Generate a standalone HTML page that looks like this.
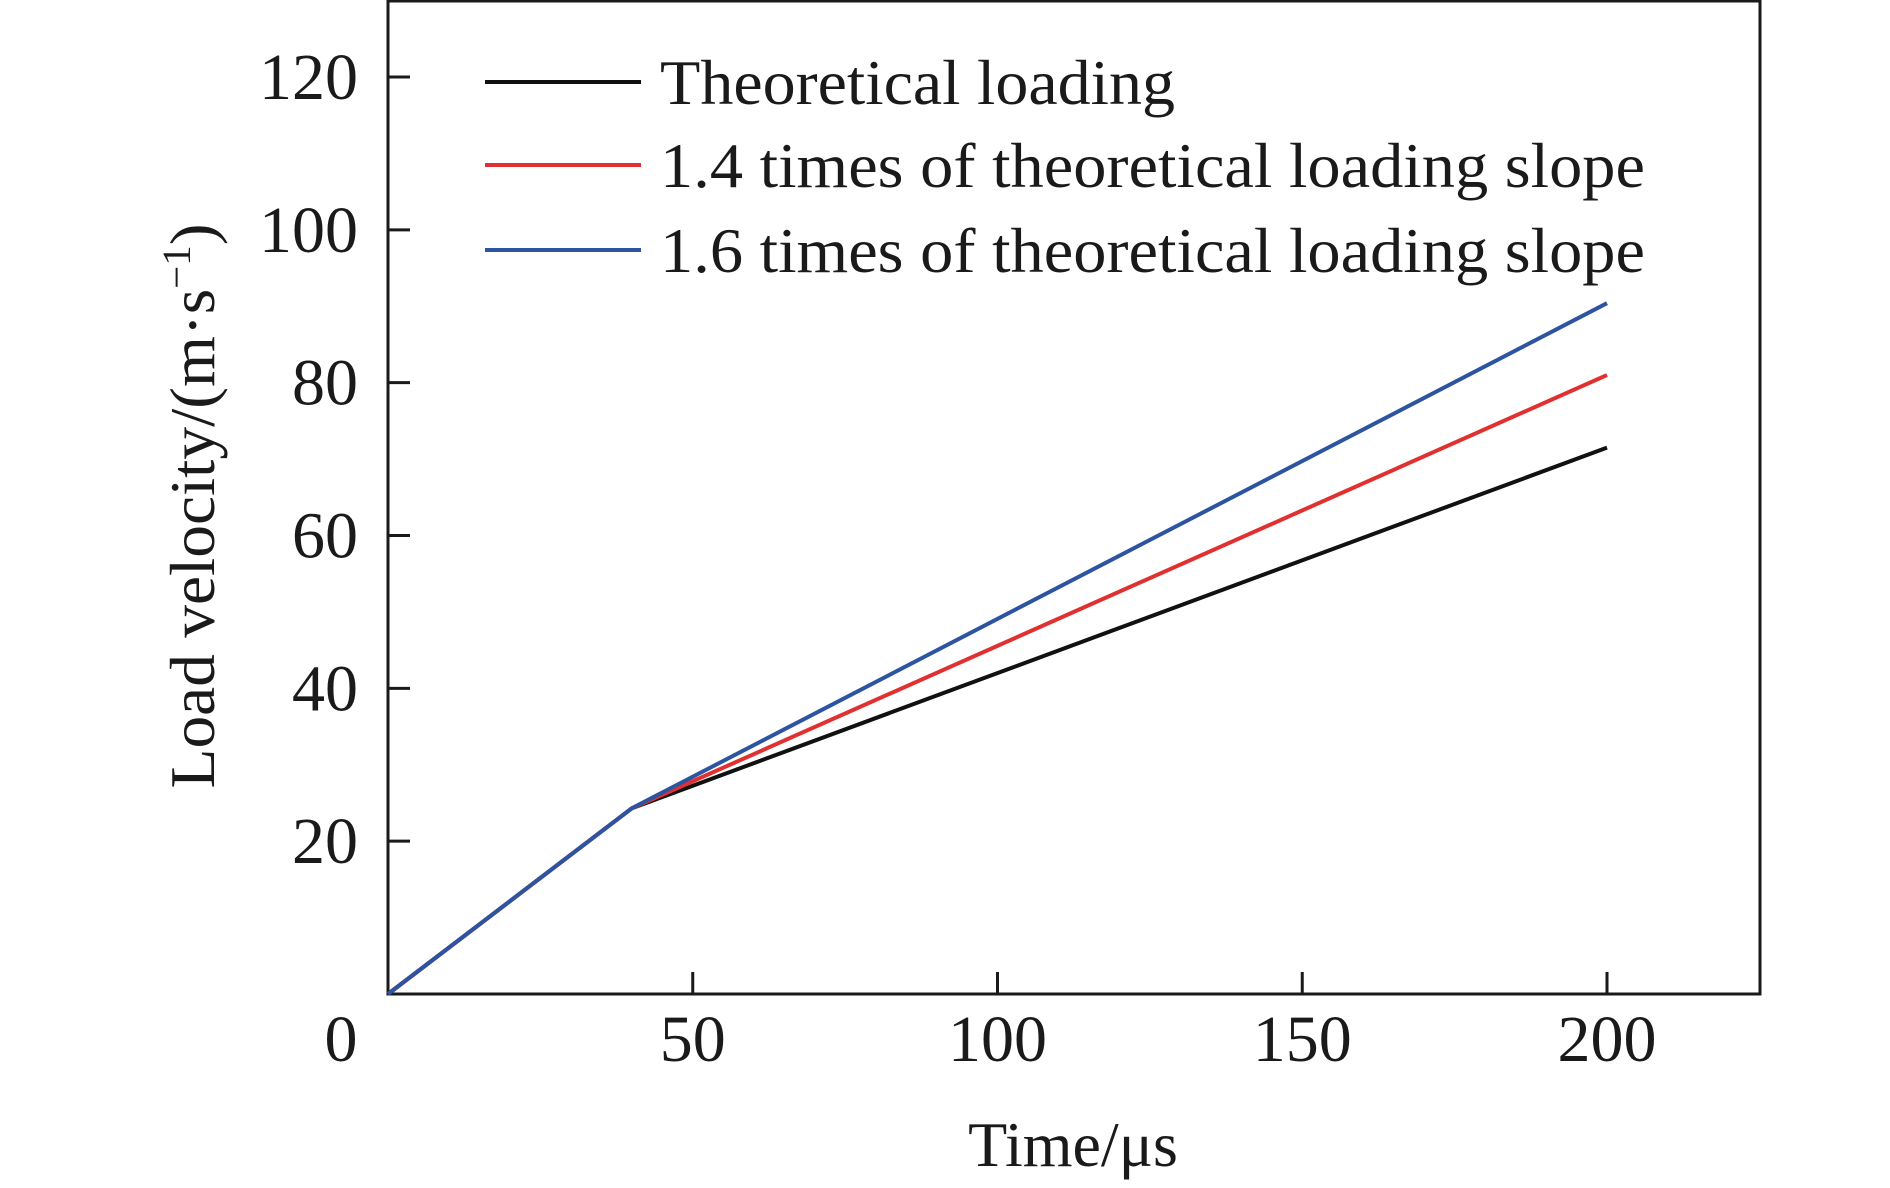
<!DOCTYPE html>
<html><head><meta charset="utf-8"><style>
html,body{margin:0;padding:0;background:#fff}
svg{display:block}
text{font-family:"Liberation Serif",serif;fill:#1a1a1a}
</style></head><body>
<svg id="chart" width="1890" height="1188" viewBox="0 0 1890 1188" xmlns="http://www.w3.org/2000/svg">
<g id="plot"></g>
</svg>
<script>
const xTicks=[0,50,100,150,200];
const yTicks=[20,40,60,80,100,120];
const times=[0,40,200];
const theoretical=[0,24.3,71.5];
const slope14=[0,24.3,81];
const slope16=[0,24.3,90.4];
const seriesNames=["Theoretical loading","1.4 times of theoretical loading slope","1.6 times of theoretical loading slope"];
const L=388,R=1760,T=0,B=994;
const x=v=>L+(v/200)*(1607-L);
const y=v=>B-(v/120)*(B-77);
const ns="http://www.w3.org/2000/svg";
const g=document.getElementById('plot');
function mk(tag,attrs,parent){const e=document.createElementNS(ns,tag);for(const k in attrs)e.setAttribute(k,attrs[k]);(parent||g).appendChild(e);return e;}
const fr=mk('rect',{x:L,y:T+1,width:R-L,height:B-T-1,fill:'none',stroke:'#1a1a1a','stroke-width':3});


xTicks.forEach(v=>{
  if(v>0){const t=mk('line',{x1:x(v),x2:x(v),y1:B,y2:B-22,stroke:'#1a1a1a','stroke-width':3});
  
  }
  const tx=mk('text',{x:v===0?341:x(v),y:1061,'font-size':66,'text-anchor':'middle'});
  tx.textContent=v;
  
  
});
yTicks.forEach(v=>{
  const t=mk('line',{x1:L,x2:L+22,y1:y(v),y2:y(v),stroke:'#1a1a1a','stroke-width':3});
  
  
  const tx=mk('text',{x:358,y:y(v)+22,'font-size':66,'text-anchor':'end'});
  tx.textContent=v;
  
  
});
const series=[theoretical,slope14,slope16];
const colors=['#111111','#e03030','#2d54a0'];
series.forEach((s,i)=>{
  const p=mk('polyline',{points:s.map((v,j)=>x(times[j])+','+y(v)).join(' '),fill:'none',stroke:colors[i],'stroke-width':4});
  
  
  const ly=[82,165,250][i];
  const ll=mk('line',{x1:485,x2:641,y1:ly,y2:ly,stroke:colors[i],'stroke-width':4});
  
  
  const lt=mk('text',{x:660,y:ly+22,'font-size':64,textLength:i===0?515:985,lengthAdjust:'spacingAndGlyphs'});
  lt.textContent=seriesNames[i];
  
  
});
const xt=mk('text',{x:1073,y:1166,'font-size':64,'text-anchor':'middle'});
xt.textContent='Time/μs';


const yt=mk('text',{x:0,y:0,'font-size':64,'text-anchor':'middle',textLength:565,lengthAdjust:'spacingAndGlyphs',transform:'translate(214,506) rotate(-90)'});
yt.innerHTML='Load velocity/(m·s<tspan dy="-24" font-size="40">−1</tspan><tspan dy="24">)</tspan>';


</script>
</body></html>
